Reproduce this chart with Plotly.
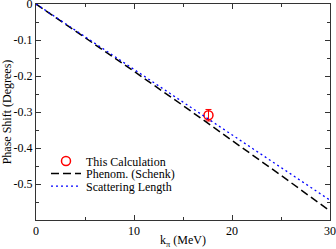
import plotly.graph_objects as go

# data
k_calc = [17.6]
ps_calc = [-0.309]
ps_err = [0.016]

k_line = [0, 5, 10, 15, 20, 25, 30]
ps_phenom = [0, -0.093, -0.187, -0.282, -0.378, -0.476, -0.575]
ps_scatt = [0, -0.0908, -0.1817, -0.2725, -0.3633, -0.4542, -0.545]

x_tickvals = [0, 10, 20, 30]
x_ticktext = ["0", "10", "20", "30"]
y_tickvals = [0, -0.1, -0.2, -0.3, -0.4, -0.5]
y_ticktext = ["0", "-0.1", "-0.2", "-0.3", "-0.4", "-0.5"]

FAM = "'Times New Roman', 'Liberation Serif', Times, serif"
font = dict(family=FAM, size=12, color="black")

fig = go.Figure()
fig.add_trace(go.Scatter(
    x=k_calc, y=ps_calc, mode="markers", name="This Calculation", legend="legend",
    marker=dict(symbol="circle-open", size=9, color="red", line=dict(width=1.5, color="red")),
    error_y=dict(type="data", array=ps_err, color="red", thickness=1, width=3),
))
fig.add_trace(go.Scatter(
    x=k_line, y=ps_phenom, mode="lines", name="Phenom. (Schenk)", legend="legend2",
    line=dict(color="black", width=1.5, dash="8px,4px"),
))
fig.add_trace(go.Scatter(
    x=k_line, y=ps_scatt, mode="lines", name="Scattering Length", legend="legend3",
    line=dict(color="blue", width=1.3, dash="2px,3px"),
))

axis_common = dict(
    showgrid=False, zeroline=False, showline=True, linecolor="#333", linewidth=1,
    mirror="allticks", ticks="inside", ticklen=5, tickcolor="#333", tickwidth=1,
    tickfont=font, automargin=False, ticklabeloverflow="allow",
)
fig.update_xaxes(range=[0, 30], tickvals=x_tickvals, ticktext=x_ticktext,
                 minor=dict(dtick=5, ticks="inside", ticklen=3, tickcolor="#333"),
                 title=dict(text="k<sub>π</sub> (MeV)", font=font, standoff=0),
                 **axis_common)
fig.update_yaxes(range=[-0.6, 0], tickvals=y_tickvals, ticktext=y_ticktext,
                 minor=dict(dtick=0.05, ticks="inside", ticklen=3, tickcolor="#333"),
                 title=dict(text="Phase Shift (Degrees)", font=font, standoff=2),
                 **axis_common)

leg = dict(xanchor="left", yanchor="middle", bgcolor="rgba(0,0,0,0)",
           font=dict(family=FAM, size=12, color="black"), itemwidth=30, borderwidth=0)
fig.update_layout(
    width=336, height=249,
    margin=dict(l=36, r=6, t=4, b=29),
    plot_bgcolor="white", paper_bgcolor="white",
    font=font,
    legend=dict(x=0.034, y=0.273, **leg),
    legend2=dict(x=0.034, y=0.215, **leg),
    legend3=dict(x=0.034, y=0.157, **leg),
    showlegend=True,
)
fig.write_html("out.html", config={"displayModeBar": False},
               post_script="document.body.style.margin='0';document.body.style.overflow='hidden';")
